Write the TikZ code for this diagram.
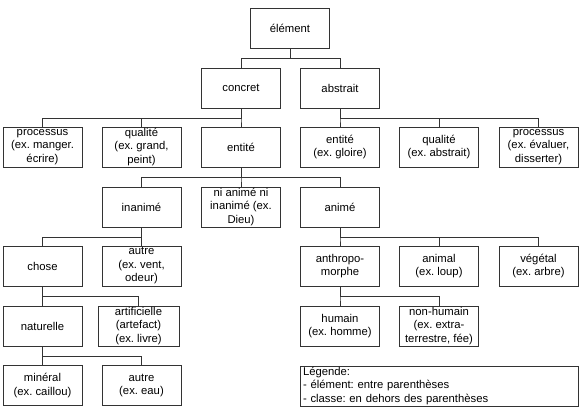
\documentclass[tikz,border=0pt]{standalone}
\usepackage{fontspec}
\setmainfont{Liberation Sans}
\frenchspacing
\usetikzlibrary{positioning}
\tikzset{
	taxonomy tree/.style={
		x=1pt,y=-1pt, % pixel-like coordinates, y going down
		font=\fontsize{11.3}{13.5}\selectfont,
	},
	class/.style={
		rectangle,
		draw=black!80,
		line width=0.8pt,
		minimum width=79pt,
		minimum height=40pt,
		inner sep=0pt,
		align=center
	},
	legend/.style={
		class,
		minimum width=278pt,
		text width=272pt,
		align=left
	},
	branch/.style={
		draw=black!80,
		line width=0.8pt
	}
}
% elbow connector from a parent to one child
\newcommand{\branchto}[2]{\draw[branch] (#1.south) -- ++(0,10) -| (#2.north);}

\begin{document}
\begin{tikzpicture}[taxonomy tree]
	\useasboundingbox (0,0) rectangle (580,410);
	% top
	\node[class] (element) at (290,28) {élément};
	\node[class] (concret) at (241,88) {concret};
	\node[class] (abstrait) at (340,88) {abstrait};
	% row 3
	\node[class] (procC) at (42.5,147) {processus\\(ex. manger.\\écrire)};
	\node[class] (qualC) at (141.5,147) {qualité\\(ex. grand,\\peint)};
	\node[class] (entC) at (241,147) {entité};
	\node[class] (entA) at (340,147) {entité\\(ex. gloire)};
	\node[class] (qualA) at (439,147) {qualité\\(ex. abstrait)};
	\node[class] (procA) at (538.5,147) {processus\\(ex. évaluer,\\disserter)};
	% row 4
	\node[class] (inanime) at (141.5,207) {inanimé};
	\node[class] (nianime) at (241,207) {ni animé ni\\inanimé (ex.\\Dieu)};
	\node[class] (anime) at (340,207) {animé};
	% row 5
	\node[class] (chose) at (42.5,266) {chose};
	\node[class] (autreI) at (141.5,266) {autre\\(ex. vent,\\odeur)};
	\node[class] (anthropo) at (340,266) {anthropo-\\morphe};
	\node[class] (animal) at (439,266) {animal\\(ex. loup)};
	\node[class] (vegetal) at (538.5,266) {végétal\\(ex. arbre)};
	% row 6
	\node[class] (naturelle) at (42.5,326) {naturelle};
	\node[class,minimum width=81pt] (artif) at (138.5,326) {artificielle\\(artefact)\\(ex. livre)};
	\node[class] (humain) at (340,326) {humain\\(ex. homme)};
	\node[class] (nonhumain) at (439,326) {non-humain\\(ex. extra-\\terrestre, fée)};
	% row 7
	\node[class] (mineral) at (42.5,385.5) {minéral\\(ex. caillou)};
	\node[class] (autreN) at (141.5,385.5) {autre\\(ex. eau)};
	\node[legend] (legende) at (439,386) {Légende:\\- élément: entre parenthèses\\- classe: en dehors des parenthèses};

	\branchto{element}{concret}
	\branchto{element}{abstrait}
	\branchto{concret}{procC}
	\branchto{concret}{qualC}
	\branchto{concret}{entC}
	\branchto{abstrait}{entA}
	\branchto{abstrait}{qualA}
	\branchto{abstrait}{procA}
	\branchto{entC}{inanime}
	\branchto{entC}{nianime}
	\branchto{entC}{anime}
	\branchto{inanime}{chose}
	\branchto{inanime}{autreI}
	\branchto{anime}{anthropo}
	\branchto{anime}{animal}
	\branchto{anime}{vegetal}
	\branchto{chose}{naturelle}
	\branchto{chose}{artif}
	\branchto{anthropo}{humain}
	\branchto{anthropo}{nonhumain}
	\branchto{naturelle}{mineral}
	\branchto{naturelle}{autreN}
\end{tikzpicture}
\end{document}
